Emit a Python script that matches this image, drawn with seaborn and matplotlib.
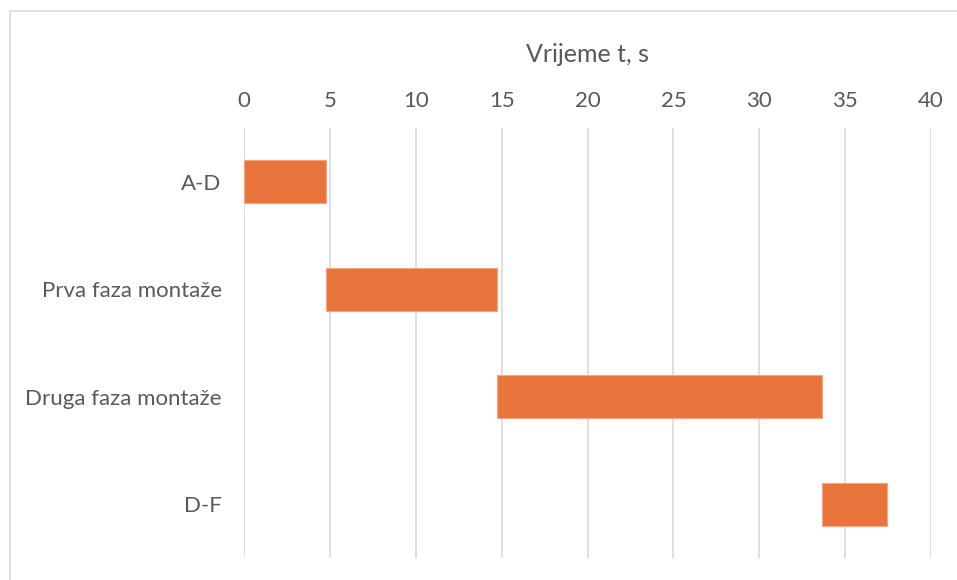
import seaborn as sns
import pandas as pd
import matplotlib.pyplot as plt
from matplotlib.lines import Line2D

# task data (seconds)
tasks = ["A-D", "Prva faza montaže", "Druga faza montaže", "D-F"]
starts = [0, 4.75, 14.75, 33.65]
durations = [4.75, 10, 18.9, 3.8]
xticks = [0, 5, 10, 15, 20, 25, 30, 35, 40]

df = pd.DataFrame({"Zadatak": tasks, "Pocetak": starts, "Trajanje": durations})

sns.set_theme(style="white")
plt.rcParams['font.family'] = ['Lato', 'DejaVu Sans']

fig = plt.figure(figsize=(9.57, 5.8), dpi=100)
ax = fig.add_axes([244/957, 1-558/580, (931-244)/957, (558-128)/580])

sns.barplot(data=df, y="Zadatak", x="Trajanje", orient="h", color="#E8743B",
            width=0.4, saturation=1, edgecolor="#F4A57E", linewidth=0.8, ax=ax, zorder=3)
# shift each bar to its start time
for p, s in zip(ax.patches, df["Pocetak"]):
    p.set_x(s)

ax.set_xlim(0, 40)
ax.set_ylim(3.5, -0.5)
ax.set_xticks(xticks)
ax.xaxis.tick_top()
ax.xaxis.set_label_position("top")
ax.set_xlabel("Vrijeme t, s", fontsize=18, color="#595959", labelpad=21)
ax.set_ylabel("")
ax.tick_params(axis="both", length=0, labelsize=16, colors="#595959")
ax.tick_params(axis="x", pad=12)
ax.tick_params(axis="y", pad=16)
ax.grid(axis="x", color="#D9D9D9", linewidth=1.2, zorder=0)
ax.set_axisbelow(True)
for sp in ax.spines.values():
    sp.set_visible(False)

# outer chart frame (only left and top visible in the crop)
fig.add_artist(Line2D([10/957, 10/957], [0, 1-11/580], color="#D9D9D9", lw=1.2))
fig.add_artist(Line2D([10/957, 1], [1-11/580, 1-11/580], color="#D9D9D9", lw=1.2))

fig.savefig("out.png", dpi=100)
